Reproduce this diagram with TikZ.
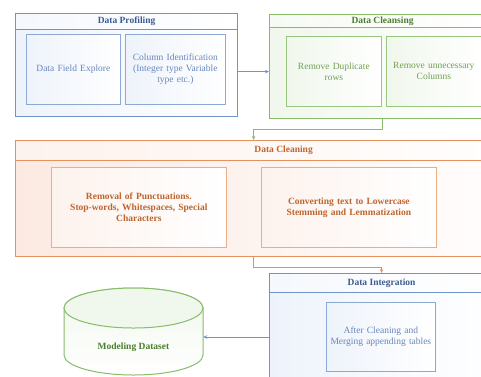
\documentclass[tikz,border=0pt]{standalone}
\usepackage{fontspec}
\setmainfont{Liberation Serif}
\usetikzlibrary{arrows.meta}
\definecolor{bbd}{RGB}{110,148,200}
\definecolor{btx}{RGB}{60,90,145}
\definecolor{bin}{RGB}{105,135,185}
\definecolor{bfill}{RGB}{238,243,251}
\definecolor{gbd}{RGB}{135,188,105}
\definecolor{gtx}{RGB}{75,125,45}
\definecolor{gin}{RGB}{115,160,85}
\definecolor{gfill}{RGB}{240,247,236}
\definecolor{obd}{RGB}{228,145,95}
\definecolor{otx}{RGB}{190,100,45}
\definecolor{ofill}{RGB}{252,234,226}
\tikzset{
  outer/.style={draw=#1, line width=1.2pt, anchor=north west, inner sep=0pt},
  titlebar/.style={draw=#1, line width=1.2pt, anchor=north, inner sep=0pt, minimum height=16pt, font=\fontsize{9.5}{11}\selectfont\bfseries},
  inbox/.style={draw=#1, line width=0.7pt, anchor=north west, inner sep=2pt, align=center, font=\fontsize{9.5}{11}\selectfont},
  arr/.style={draw=#1, line width=1pt, -{Stealth[length=4pt,width=3.5pt]}},
}
\begin{document}
\begin{tikzpicture}[x=1pt,y=-1pt]
\useasboundingbox (0,0) rectangle (481,376);
\clip (0,0) rectangle (481,376);
% Data Profiling
\node[outer=bbd, left color=bfill, right color=white, minimum width=222pt, minimum height=103pt] (prof) at (15,13) {};
\node[titlebar=bbd, text=btx, minimum width=222pt, left color=bfill!60, right color=white] (proft) at (prof.north) {Data Profiling};
\node[inbox=bbd!80, text=bin, left color=bfill, right color=white, minimum width=94pt, minimum height=70pt, text width=90pt] (pa) at (26,34) {Data Field Explore};
\node[inbox=bbd!80, text=bin, left color=bfill, right color=white, minimum width=100pt, minimum height=70pt, text width=96pt] (pb) at (125,34) {Column Identification\\(Integer type Variable\\type etc.)};
% Data Cleansing
\node[outer=gbd, left color=gfill, right color=white, minimum width=226pt, minimum height=104pt] (cls) at (269,14) {};
\node[titlebar=gbd, text=gtx, minimum width=226pt, minimum height=13pt, left color=gfill!60, right color=white] (clst) at (cls.north) {Data Cleansing};
\node[inbox=gbd!85, text=gin, left color=gfill, right color=white, minimum width=95pt, minimum height=70pt, text width=91pt] (ca) at (286,36) {Remove Duplicate\\rows};
\node[inbox=gbd!85, text=gin, left color=gfill, right color=white, minimum width=95pt, minimum height=70pt, text width=91pt] (cb) at (386,36) {Remove unnecessary\\Columns};
% Data Cleaning
\node[outer=obd, left color=ofill, right color=white, minimum width=536pt, minimum height=116pt] (cln) at (15,140) {};
\node[titlebar=obd, text=otx, minimum width=536pt, minimum height=20pt, left color=ofill!60, right color=white] (clnt) at (cln.north) {Data Cleaning};
\node[inbox=obd!75, text=otx, font=\fontsize{9.5}{11}\selectfont\bfseries, left color=ofill!60, right color=white, minimum width=175pt, minimum height=80pt, text width=171pt] (oa) at (51,167) {Removal of Punctuations.\\Stop-words, Whitespaces, Special\\Characters};
\node[inbox=obd!75, text=otx, font=\fontsize{9.5}{11}\selectfont\bfseries, left color=ofill!60, right color=white, minimum width=175pt, minimum height=80pt, text width=171pt] (ob) at (261,167) {Converting text to Lowercase\\Stemming and Lemmatization};
% Data Integration
\node[outer=bbd, left color=bfill, right color=white, minimum width=224pt, minimum height=120pt] (integ) at (269,273) {};
\node[titlebar=bbd, text=btx, minimum width=224pt, minimum height=19pt, left color=bfill!60, right color=white] (integt) at (integ.north) {Data Integration};
\node[inbox=bbd!80, text=bin, left color=bfill, right color=white, minimum width=109pt, minimum height=69pt, text width=105pt] (ia) at (326,302) {After Cleaning and\\Merging appending tables};
% Cylinder
\path[draw=gbd, line width=1pt, top color=gfill, bottom color=white]
  (64,308) -- (64,355) arc[start angle=180, end angle=360, x radius=69.5, y radius=-20] -- (203,308)
  arc[start angle=0, end angle=180, x radius=69.5, y radius=-20] -- cycle;
\draw[gbd, line width=1pt, fill=gfill] (133.5,308) ellipse[x radius=69.5, y radius=20];
\node[inner sep=0pt, minimum width=139pt, minimum height=58pt] (ds) at (133.5,337) {};
\node[text=gtx, font=\fontsize{9.5}{11}\selectfont\bfseries] (dst) at (133.5,347) {Modeling Dataset};
% Connectors
\draw[arr=bbd] ([yshift=-6.5pt]prof.east) -- ([yshift=-5pt]cls.west);
\draw[arr=gbd] (cls.south) -- ++(0,10) -| ([xshift=-30pt]cln.north);
\draw[arr=obd] ([xshift=-30pt]cln.south) -- ++(0,10) -| (integ.north);
\draw[arr=bbd] (integ.west |- ds.east) -- (ds.east);
\end{tikzpicture}
\end{document}
